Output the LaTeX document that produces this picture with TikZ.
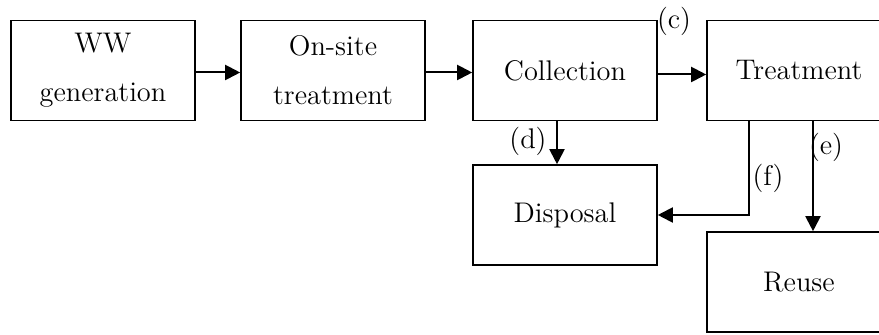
\documentclass[tikz,border=0pt]{standalone}
\usepackage{tikz}
\usetikzlibrary{arrows.meta}

\begin{document}
\begin{tikzpicture}[x=0.5pt, y=-0.5pt,
    stage/.style={draw, line width=0.8pt, minimum width=92pt, minimum height=50pt,
                  inner sep=0pt, align=center, font=\fontsize{14.2}{24.5}\selectfont},
    flow/.style={line width=1pt, -{Triangle[length=7.5pt,width=7.5pt]}},
    tag/.style={inner sep=0pt, font=\fontsize{14.2}{16}\selectfont}]
            \clip (0,0) rectangle (879,335);
            % top row
            \node[stage] (gen) at (103,70.5) {WW\\generation};
            \node[stage] (onsite) at (333,70.5) {On-site\\treatment};
            \node[stage] (coll) at (565,70.5) {Collection};
            \node[stage] (treat) at (799,70.5) {Treatment};
            % lower boxes
            \node[stage] (disp) at (565,215) {Disposal};
            \node[stage] (reuse) at (799,282) {Reuse};
            \draw[flow] ([yshift=-1pt]gen.east) -- ([yshift=-1pt]onsite.west);
            \draw[flow] ([yshift=-1pt]onsite.east) -- ([yshift=-1pt]coll.west);
            \draw[flow] ([yshift=-2pt]coll.east) -- ([yshift=-2pt]treat.west);
            \draw[flow] ([xshift=-4pt]coll.south) -- ([xshift=-4pt]disp.north);
            \draw[flow] ([xshift=-25pt]treat.south) |- (disp.east);
            \draw[flow] ([xshift=7pt]treat.south) -- ([xshift=7pt]reuse.north);
            \node[tag] (lc) at (674,21) {(c)};
            \node[tag] (ld) at (528,141) {(d)};
            \node[tag] (le) at (826,147) {(e)};
            \node[tag] (lf) at (768,178) {(f)};
        \end{tikzpicture}
\end{document}
